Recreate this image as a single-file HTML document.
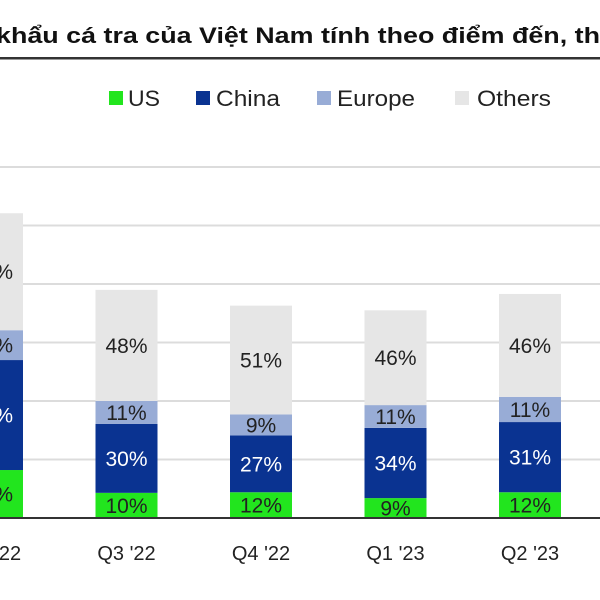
<!DOCTYPE html>
<html><head><meta charset="utf-8"><style>
body{margin:0;background:#fff;width:600px;height:600px;overflow:hidden;font-family:"Liberation Sans","DejaVu Sans",sans-serif;}
svg{display:block}
</style></head><body>
<svg id="chart" width="600" height="600" xmlns="http://www.w3.org/2000/svg">
<text x="-4" y="43" font-size="22" font-weight="bold" fill="#111" textLength="604" lengthAdjust="spacingAndGlyphs" font-family="Liberation Sans, sans-serif">khẩu cá tra của Việt Nam tính theo điểm đến, th</text>
<rect x="0" y="57" width="600" height="2.5" fill="#333"/>
<g id="legend"></g>
<g id="grid"></g>
<g id="bars"></g>
<g id="xlabels"></g>
</svg>
<script>
const categories=["Q2 '22","Q3 '22","Q4 '22","Q1 '23","Q2 '23"];
const seriesNames=["US","China","Europe","Others"];
const colors=["#22e51e","#0a3391","#98acd6","#e6e6e6"];
const usVals=[82,43,44,34,44];
const chinaVals=[188,118,97,120,120];
const europeVals=[51,39,36,39,43];
const othersVals=[200,190,186,162,176];
const usLabels=["16%","10%","12%","9%","12%"];
const chinaLabels=["36%","30%","27%","34%","31%"];
const europeLabels=["10%","11%","9%","11%","11%"];
const othersLabels=["38%","48%","51%","46%","46%"];
const gridTicks=[100,200,300,400,500,600];

const NS="http://www.w3.org/2000/svg";
const baseY=518, pxPerUnit=0.585, x0=-8, step=134.5, barW=62;
const y=v=>baseY-v*pxPerUnit;
const xc=i=>x0+i*step;
function mk(tag,attrs,parent){const e=document.createElementNS(NS,tag);for(const k in attrs)e.setAttribute(k,attrs[k]);parent.appendChild(e);return e;}
const grid=document.getElementById('grid'),bars=document.getElementById('bars'),xl=document.getElementById('xlabels'),lg=document.getElementById('legend');
gridTicks.forEach(t=>{const l=mk('line',{x1:0,x2:600,y1:y(t),y2:y(t),stroke:'#dcdcdc','stroke-width':2},grid);

});
const vals=[usVals,chinaVals,europeVals,othersVals];
const labs=[usLabels,chinaLabels,europeLabels,othersLabels];
const txtCol=["#222","#fff","#222","#222"];
categories.forEach((c,i)=>{let cum=0;
 vals.forEach((s,k)=>{const v=s[i];const r=mk('rect',{x:xc(i)-barW/2,y:y(cum+v),width:barW,height:v*pxPerUnit,fill:colors[k]},bars);
 
 
 const t=mk('text',{x:xc(i),y:y(cum+v/2)+7.5,'text-anchor':'middle','font-size':21,fill:txtCol[k]},bars);t.textContent=labs[k][i];
 
 
 cum+=v;});
 const t=mk('text',{x:xc(i),y:560,'text-anchor':'middle','font-size':20,fill:'#222'},xl);t.textContent=c;
 
 
});
const base=mk('line',{x1:0,x2:600,y1:baseY,y2:baseY,stroke:'#333','stroke-width':2},bars);


const legX=[109,196,317,455];
const legTX=[128,216,337,477];
const legW=[32,64,78,74];
seriesNames.forEach((n,k)=>{const r=mk('rect',{x:legX[k],y:91,width:14,height:14,fill:colors[k]},lg);


const t=mk('text',{x:legTX[k],y:106,'font-size':22,fill:'#222',textLength:legW[k],lengthAdjust:'spacingAndGlyphs'},lg);t.textContent=n;

});
</script>
</body></html>
